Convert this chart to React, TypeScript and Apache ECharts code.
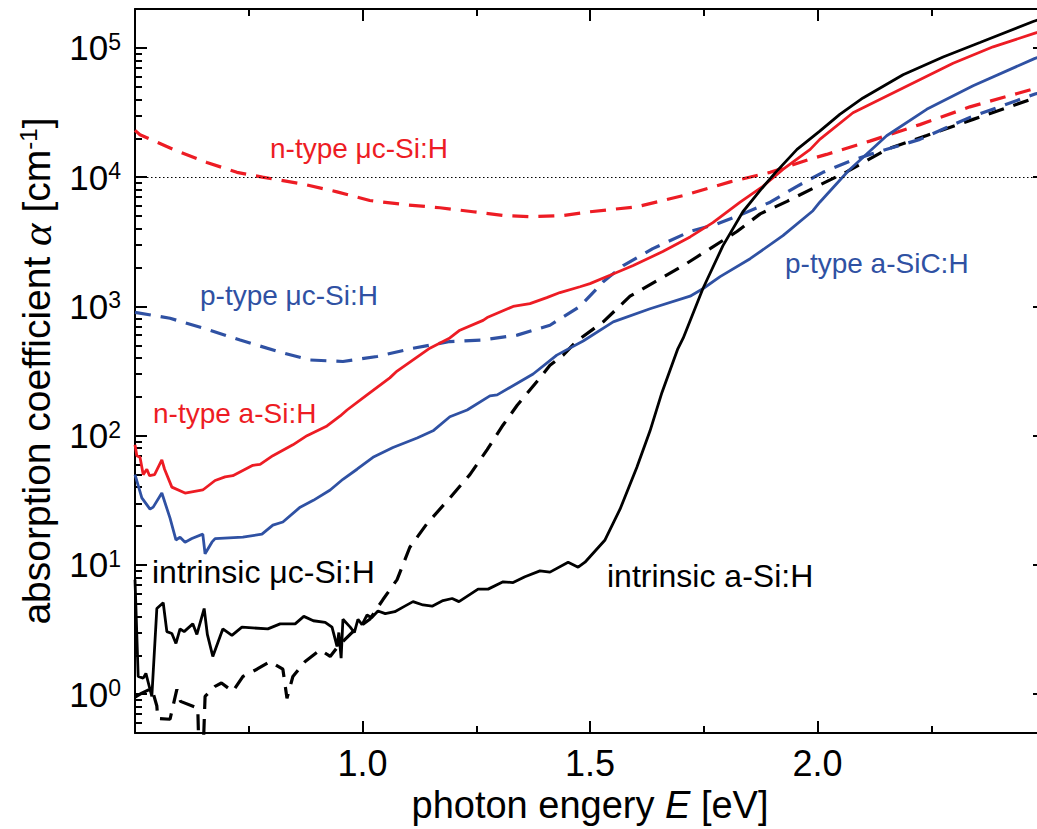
import React, { useEffect, useRef } from "react";
import * as echarts from "echarts";

// ---------- data (photon energy E [eV], absorption coefficient [cm^-1]) ----------
const intrinsicASiH: [number, number][] = [
  [0.5, 7.7], [0.507, 1.37], [0.518, 1.33], [0.524, 1.45], [0.537, 0.96], [0.548, 4.6], [0.562, 5.1],
  [0.57, 3.05], [0.581, 2.95], [0.59, 2.47], [0.599, 3.2], [0.608, 3.05], [0.627, 3.5], [0.636, 2.9],
  [0.652, 4.6], [0.659, 2.9], [0.671, 1.96], [0.693, 3.2], [0.713, 2.85], [0.735, 3.3], [0.792, 3.2],
  [0.819, 3.5], [0.852, 3.5], [0.871, 4.0], [0.892, 3.7], [0.918, 3.6], [0.933, 3.3], [0.944, 2.34],
  [0.948, 3.0], [0.953, 1.9], [0.957, 3.8], [0.973, 3.3], [0.982, 3.0], [0.99, 3.8], [0.999, 3.45],
  [1.01, 4.1], [1.02, 3.9], [1.034, 4.4], [1.05, 4.2], [1.071, 4.35], [1.093, 4.8], [1.111, 5.2],
  [1.133, 4.9], [1.153, 4.8], [1.177, 5.3], [1.197, 5.5], [1.212, 5.2], [1.254, 6.5], [1.276, 6.5],
  [1.309, 7.4], [1.331, 7.3], [1.357, 8.1], [1.39, 9.0], [1.412, 8.8], [1.452, 10.5], [1.474, 9.6],
  [1.489, 10.5], [1.533, 15.6], [1.566, 27], [1.603, 57], [1.632, 109], [1.658, 215], [1.693, 470],
  [1.705, 570], [1.748, 1370], [1.792, 2940], [1.836, 5400], [1.874, 7900], [1.907, 10800],
  [1.955, 16400], [2.005, 22700], [2.049, 30600], [2.1, 41000], [2.188, 62000], [2.276, 85000],
  [2.357, 110000], [2.474, 160000], [2.5, 172000],
];
const nTypeASiH: [number, number][] = [
  [0.5, 85], [0.504, 70], [0.511, 68], [0.518, 50], [0.526, 55], [0.532, 49], [0.543, 50], [0.559, 65],
  [0.565, 55], [0.581, 40], [0.61, 36], [0.649, 38], [0.676, 45], [0.698, 48], [0.715, 49], [0.759, 59],
  [0.775, 60], [0.803, 70], [0.847, 85], [0.878, 100], [0.922, 119], [0.951, 142], [0.966, 158],
  [1.01, 207], [1.06, 280], [1.076, 316], [1.148, 475], [1.192, 570], [1.214, 655], [1.265, 780],
  [1.274, 820], [1.331, 1000], [1.368, 1050], [1.405, 1170], [1.434, 1280], [1.478, 1420], [1.5, 1500],
  [1.544, 1740], [1.595, 2070], [1.66, 2660], [1.72, 3450], [1.77, 4450], [1.83, 6400], [1.88, 8500],
  [1.924, 11500], [1.984, 16400], [2.005, 19600], [2.078, 31500], [2.188, 49000], [2.298, 76000],
  [2.386, 102000], [2.478, 130000], [2.5, 137000],
];
const pTypeASiCH: [number, number][] = [
  [0.5, 50], [0.515, 33], [0.533, 27], [0.54, 28], [0.559, 36], [0.577, 23], [0.59, 15.6], [0.599, 16.4],
  [0.61, 15], [0.625, 16], [0.649, 17.3], [0.654, 12.2], [0.669, 15], [0.676, 16], [0.737, 16.4],
  [0.779, 17.3], [0.803, 20.3], [0.825, 21.5], [0.863, 28], [0.892, 31.6], [0.929, 38], [0.957, 46],
  [0.988, 55], [1.023, 68], [1.067, 81], [1.12, 96], [1.155, 109], [1.192, 140], [1.23, 158],
  [1.28, 203], [1.296, 207], [1.375, 300], [1.427, 420], [1.485, 540], [1.551, 760], [1.632, 960],
  [1.72, 1200], [1.748, 1370], [1.786, 1700], [1.852, 2340], [1.924, 3530], [1.99, 5500], [2.005, 6400],
  [2.068, 11200], [2.152, 20900], [2.24, 33500], [2.342, 51000], [2.478, 83000], [2.5, 88000],
];
const nTypeMcSiH: [number, number][] = [
  [0.5, 23000], [0.511, 21300], [0.584, 16400], [0.658, 13000], [0.724, 10900], [0.78, 10000],
  [0.869, 8850], [0.944, 7700], [1.016, 6600], [1.098, 6100], [1.17, 5800], [1.243, 5400], [1.309, 5050],
  [1.368, 4950], [1.441, 5050], [1.5, 5400], [1.603, 5900], [1.705, 7200], [1.808, 9200], [1.896, 10900],
  [1.984, 13800], [2.02, 15000], [2.115, 19000], [2.225, 25500], [2.335, 35000], [2.478, 48500],
  [2.5, 51000],
];
const pTypeMcSiH: [number, number][] = [
  [0.5, 900], [0.577, 810], [0.649, 680], [0.731, 550], [0.812, 450], [0.885, 385], [0.957, 375],
  [1.032, 410], [1.111, 475], [1.192, 535], [1.265, 550], [1.34, 600], [1.412, 715], [1.478, 1000],
  [1.529, 1550], [1.573, 2070], [1.638, 2800], [1.72, 3800], [1.779, 4350], [1.836, 5200], [1.896, 6400],
  [1.955, 8500], [2.012, 10900], [2.071, 13300], [2.115, 15000], [2.225, 19600], [2.335, 29000],
  [2.478, 44000], [2.5, 46000],
];
const intrinsicMcSiH: [number, number][] = [
  [0.5, 0.95], [0.515, 1.02], [0.537, 1.11], [0.548, 0.81], [0.55, 0.65], [0.577, 0.64], [0.592, 1.09],
  [0.6, 0.88], [0.638, 0.78], [0.641, 0.3], [0.649, 0.3], [0.654, 0.96], [0.676, 1.15], [0.69, 1.22],
  [0.715, 1.05], [0.737, 1.37], [0.768, 1.56], [0.797, 1.79], [0.825, 1.56], [0.834, 0.93], [0.847, 1.37],
  [0.874, 1.79], [0.907, 2.2], [0.929, 1.96], [0.946, 2.34], [0.979, 3.05], [1.016, 3.8], [1.045, 5.4],
  [1.076, 7.7], [1.104, 13.7], [1.141, 20.7], [1.192, 33], [1.236, 50], [1.274, 78], [1.309, 121],
  [1.34, 172], [1.39, 280], [1.412, 350], [1.441, 420], [1.471, 540], [1.529, 760], [1.588, 1200],
  [1.648, 1590], [1.705, 2070], [1.764, 2800], [1.823, 3800], [1.874, 5200], [1.933, 6500], [1.999, 8500],
  [2.064, 11000], [2.152, 16400], [2.24, 21000], [2.342, 28000], [2.478, 41000], [2.5, 43000],
];

const referenceLevel = 10000;

const xMinorTicks = [0.75, 1.25, 1.75, 2.25];
const yMinorTicks = [
  0.6, 0.7, 0.8, 0.9, 2, 3, 4, 5, 6, 7, 8, 9, 20, 30, 40, 50, 60, 70, 80, 90,
  200, 300, 400, 500, 600, 700, 800, 900, 2000, 3000, 4000, 5000, 6000, 7000, 8000, 9000,
  20000, 30000, 40000, 50000, 60000, 70000, 80000, 90000,
];

// ---------- styles ----------
const RED = "#ed1c24";
const BLUE = "#2f51a3";
const BLACK = "#000000";
const SANS = "Liberation Sans, Arial, Helvetica, sans-serif";
const SERIF = "Liberation Serif, Times New Roman, serif";

const X_MIN = 0.5;
const X_MAX = 2.5;
const Y_MIN = 0.5;
const Y_MAX = 200000;

function makeX(position: "top" | "bottom", minor: boolean, withLabels: boolean) {
  return {
    type: "value",
    position,
    min: X_MIN,
    max: X_MAX,
    interval: 0.5,
    axisLine: { show: !minor, onZero: false, lineStyle: { color: BLACK, width: 2 } },
    axisTick: minor
      ? { show: true, inside: true, length: 7, customValues: xMinorTicks, lineStyle: { color: BLACK, width: 2 } }
      : { show: true, inside: true, length: 12, lineStyle: { color: BLACK, width: 2 } },
    axisLabel: withLabels
      ? {
          show: true,
          margin: 12,
          color: BLACK,
          fontFamily: SANS,
          fontSize: 36,
          showMinLabel: false,
          showMaxLabel: false,
          formatter: (v: number) => v.toFixed(1),
        }
      : { show: false },
    splitLine: { show: false },
    ...(withLabels
      ? {
          name: "{t|photon engery }{i|E}{t| [eV]}",
          nameLocation: "middle",
          nameGap: 50,
          nameTextStyle: {
            rich: {
              t: { fontFamily: SANS, fontSize: 38, color: BLACK },
              i: { fontFamily: SANS, fontSize: 38, color: BLACK, fontStyle: "italic" },
            },
          },
        }
      : {}),
  };
}

function makeY(position: "left" | "right", minor: boolean, withLabels: boolean) {
  return {
    type: "log",
    logBase: 10,
    position,
    min: Y_MIN,
    max: Y_MAX,
    axisLine: { show: !minor, onZero: false, lineStyle: { color: BLACK, width: 2 } },
    axisTick: minor
      ? { show: true, inside: true, length: 7, customValues: yMinorTicks, lineStyle: { color: BLACK, width: 2 } }
      : { show: true, inside: true, length: 12, lineStyle: { color: BLACK, width: 2 } },
    axisLabel: withLabels
      ? {
          show: true,
          margin: 14,
          showMinLabel: false,
          showMaxLabel: false,
          formatter: (v: number) => `{b|10}{s|${Math.round(Math.log10(v))}}`,
          rich: {
            b: { fontFamily: SANS, fontSize: 35, color: BLACK, lineHeight: 35 },
            s: { fontFamily: SANS, fontSize: 23, color: BLACK, lineHeight: 14, verticalAlign: "top" },
          },
        }
      : { show: false },
    splitLine: { show: false },
    minorTick: { show: false },
    ...(withLabels
      ? {
          name: "{t|absorption coefficient }{a|α}{t| [cm}{s|-1}{t|]}",
          nameLocation: "middle",
          nameGap: 76,
          nameTextStyle: {
            rich: {
              t: { fontFamily: SANS, fontSize: 39, color: BLACK, lineHeight: 40 },
              a: { fontFamily: SERIF, fontSize: 43, color: BLACK, fontStyle: "italic", lineHeight: 40 },
              s: { fontFamily: SANS, fontSize: 24, color: BLACK, lineHeight: 16, verticalAlign: "top" },
            },
          },
        }
      : {}),
  };
}

function lineSeries(name: string, data: [number, number][], color: string, dashed: boolean) {
  return {
    name,
    type: "line",
    data,
    xAxisIndex: 0,
    yAxisIndex: 0,
    symbol: "none",
    showSymbol: false,
    clip: true,
    lineStyle: { color, width: dashed ? 3.2 : 2.8, type: dashed ? [16, 10] : "solid", cap: "butt" },
  };
}

function label(text: string, x: number, y: number, color: string, size: number) {
  return {
    type: "text",
    x,
    y,
    z: 100,
    style: {
      text,
      fill: color,
      font: `${size}px ${SANS}`,
      align: "left",
      verticalAlign: "middle",
    },
  };
}

export default function App() {
  const ref = useRef<HTMLDivElement>(null);
  useEffect(() => {
    if (!ref.current) return;
    const chart = echarts.init(ref.current, undefined, { renderer: "svg" });
    const series: any[] = [
      lineSeries("intrinsic μc-Si:H", intrinsicMcSiH, BLACK, true),
      lineSeries("p-type μc-Si:H", pTypeMcSiH, BLUE, true),
      lineSeries("n-type μc-Si:H", nTypeMcSiH, RED, true),
      lineSeries("p-type a-SiC:H", pTypeASiCH, BLUE, false),
      lineSeries("n-type a-Si:H", nTypeASiH, RED, false),
      lineSeries("intrinsic a-Si:H", intrinsicASiH, BLACK, false),
    ];
    series[0].markLine = {
      silent: true,
      symbol: "none",
      label: { show: false },
      lineStyle: { color: BLACK, width: 1, type: [1.5, 2.5] },
      data: [{ yAxis: referenceLevel }],
    };
    chart.setOption({
      animation: false,
      backgroundColor: "#ffffff",
      grid: { left: 135, top: 9, width: 910, height: 729, containLabel: false },
      xAxis: [
        makeX("bottom", false, true),
        makeX("bottom", true, false),
        makeX("top", false, false),
        makeX("top", true, false),
      ],
      yAxis: [
        makeY("left", false, true),
        makeY("left", true, false),
        makeY("right", false, false),
        makeY("right", true, false),
      ],
      series,
      graphic: [
        label("n-type μc-Si:H", 270, 148, RED, 28),
        label("p-type μc-Si:H", 200, 295, BLUE, 28),
        label("n-type a-Si:H", 153, 413, RED, 28),
        label("intrinsic μc-Si:H", 152, 572, BLACK, 32),
        label("intrinsic a-Si:H", 607, 576, BLACK, 32),
        label("p-type a-SiC:H", 785, 263, BLUE, 28),
      ],
    });
    return () => chart.dispose();
  }, []);
  return (
    <div
      ref={ref}
      style={{ position: "fixed", left: 0, top: 0, width: 1050, height: 829, background: "#fff" }}
    />
  );
}
